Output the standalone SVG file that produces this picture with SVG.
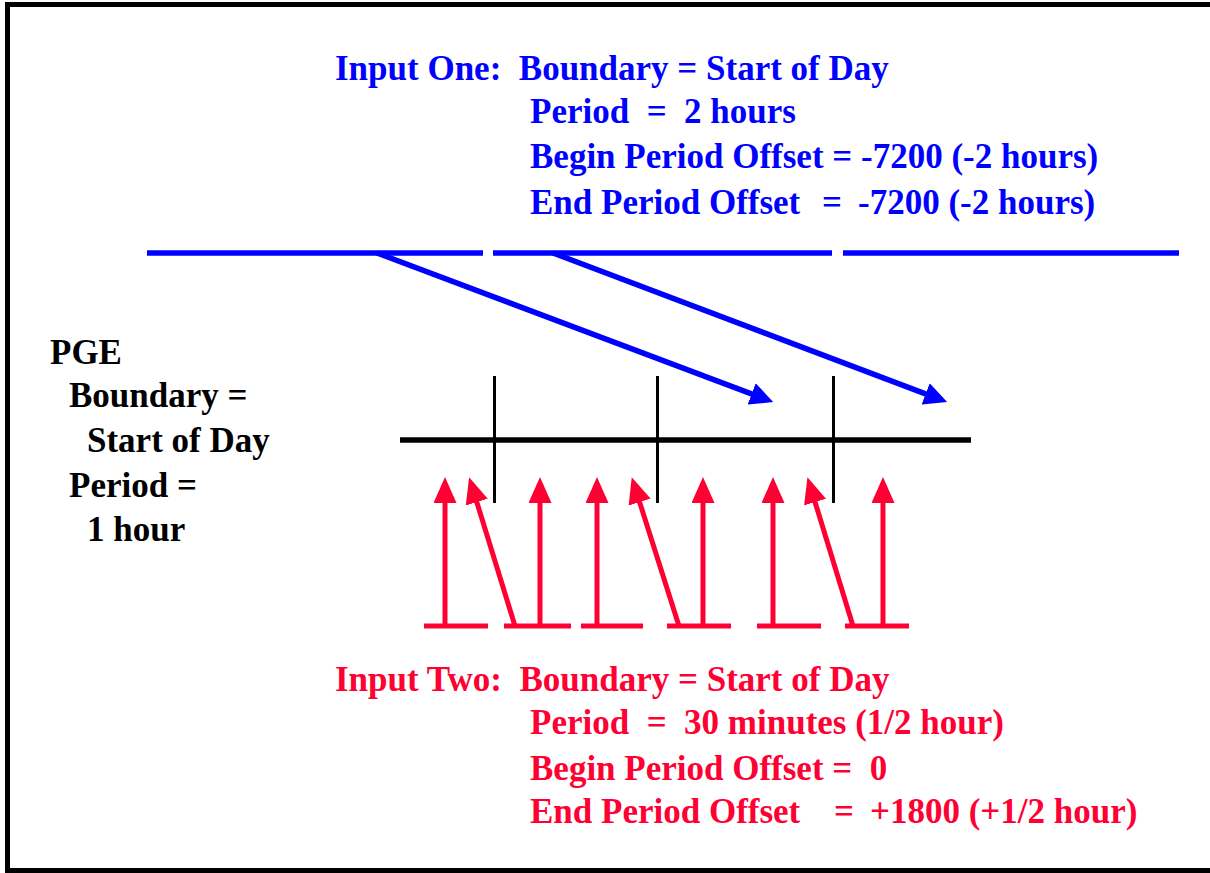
<svg xmlns="http://www.w3.org/2000/svg" width="1210" height="873" viewBox="0 0 1210 873">
<style>
text{font-family:"Liberation Serif","Times New Roman",serif;font-weight:bold;font-size:35px;white-space:pre}
.blue{fill:#0000FF}
.red{fill:#FF0033}
.blk{fill:#000000}
.bl{stroke:#0000FF;stroke-width:5.5;fill:none}
.rl{stroke:#FF0033;stroke-width:5;fill:none}
.k{stroke:#000000;fill:none}
</style>
<defs>
<marker id="ab" markerUnits="userSpaceOnUse" markerWidth="24" markerHeight="23" refX="2" refY="11.5" orient="auto"><path d="M0,0 L23,11.5 L0,23 z" fill="#0000FF"/></marker>
<marker id="ar" markerUnits="userSpaceOnUse" markerWidth="27" markerHeight="23" refX="2" refY="11.5" orient="auto"><path d="M0,0 L26,11.5 L0,23 z" fill="#FF0033"/></marker>
</defs>
<rect x="7.5" y="4.5" width="1220" height="866" fill="#FFFFFF" stroke="#000000" stroke-width="5"/>
<g id="input-one" class="blue">
<text x="335" y="80" xml:space="preserve">Input One:  Boundary = Start of Day</text>
<text x="530" y="123" xml:space="preserve">Period  =  2 hours</text>
<text x="530" y="168">Begin Period Offset = -7200 (-2 hours)</text>
<text x="530" y="214">End Period Offset</text>
<text x="822" y="214">=</text>
<text x="858" y="214">-7200 (-2 hours)</text>
</g>
<g id="input-one-periods">
<line class="bl" x1="147" y1="253" x2="483" y2="253"/>
<line class="bl" x1="493" y1="253" x2="832" y2="253"/>
<line class="bl" x1="843" y1="253" x2="1179" y2="253"/>
</g>
<g id="pge" class="blk">
<text x="50" y="364">PGE</text>
<text x="69" y="407">Boundary =</text>
<text x="87" y="452">Start of Day</text>
<text x="69" y="497">Period =</text>
<text x="87" y="541">1 hour</text>
</g>
<g id="pge-timeline">
<line class="k" stroke-width="5.5" x1="400" y1="440" x2="971" y2="440"/>
<line class="k" stroke-width="3" x1="494.5" y1="376" x2="494.5" y2="503"/>
<line class="k" stroke-width="3" x1="657.5" y1="376" x2="657.5" y2="503"/>
<line class="k" stroke-width="3" x1="833.5" y1="376" x2="833.5" y2="503"/>
</g>
<g id="input-two-periods">
<line class="rl" x1="424" y1="626" x2="488" y2="626"/>
<line class="rl" x1="504" y1="626" x2="571" y2="626"/>
<line class="rl" x1="581" y1="626" x2="643" y2="626"/>
<line class="rl" x1="667" y1="626" x2="731" y2="626"/>
<line class="rl" x1="757" y1="626" x2="821" y2="626"/>
<line class="rl" x1="845" y1="626" x2="909" y2="626"/>
</g>
<g id="connectors">
<line class="bl" x1="377" y1="253" x2="753.5" y2="394.6" marker-end="url(#ab)"/>
<line class="bl" x1="553" y1="253" x2="927.5" y2="394.6" marker-end="url(#ab)"/>
<line class="rl" x1="445" y1="626" x2="445" y2="501" marker-end="url(#ar)"/>
<line class="rl" stroke-width="3" x1="540" y1="626" x2="540" y2="501" marker-end="url(#ar)"/>
<line class="rl" x1="597" y1="626" x2="597" y2="501" marker-end="url(#ar)"/>
<line class="rl" x1="703" y1="626" x2="703" y2="501" marker-end="url(#ar)"/>
<line class="rl" x1="773" y1="626" x2="773" y2="501" marker-end="url(#ar)"/>
<line class="rl" x1="883" y1="626" x2="883" y2="501" marker-end="url(#ar)"/>
<line class="rl" stroke-width="4.5" x1="515" y1="626" x2="476.2" y2="500.2" marker-end="url(#ar)"/>
<line class="rl" stroke-width="4.5" x1="679" y1="626" x2="639" y2="500.2" marker-end="url(#ar)"/>
<line class="rl" stroke-width="4.5" x1="853" y1="626" x2="814.5" y2="500.2" marker-end="url(#ar)"/>
</g>
<g id="input-two" class="red">
<text x="335" y="691" xml:space="preserve">Input Two:  Boundary = Start of Day</text>
<text x="530" y="734" xml:space="preserve">Period  =  30 minutes (1/2 hour)</text>
<text x="530" y="780" xml:space="preserve">Begin Period Offset =  0</text>
<text x="530" y="823">End Period Offset</text>
<text x="834" y="823">=</text>
<text x="870" y="823">+1800 (+1/2 hour)</text>
</g>
</svg>
